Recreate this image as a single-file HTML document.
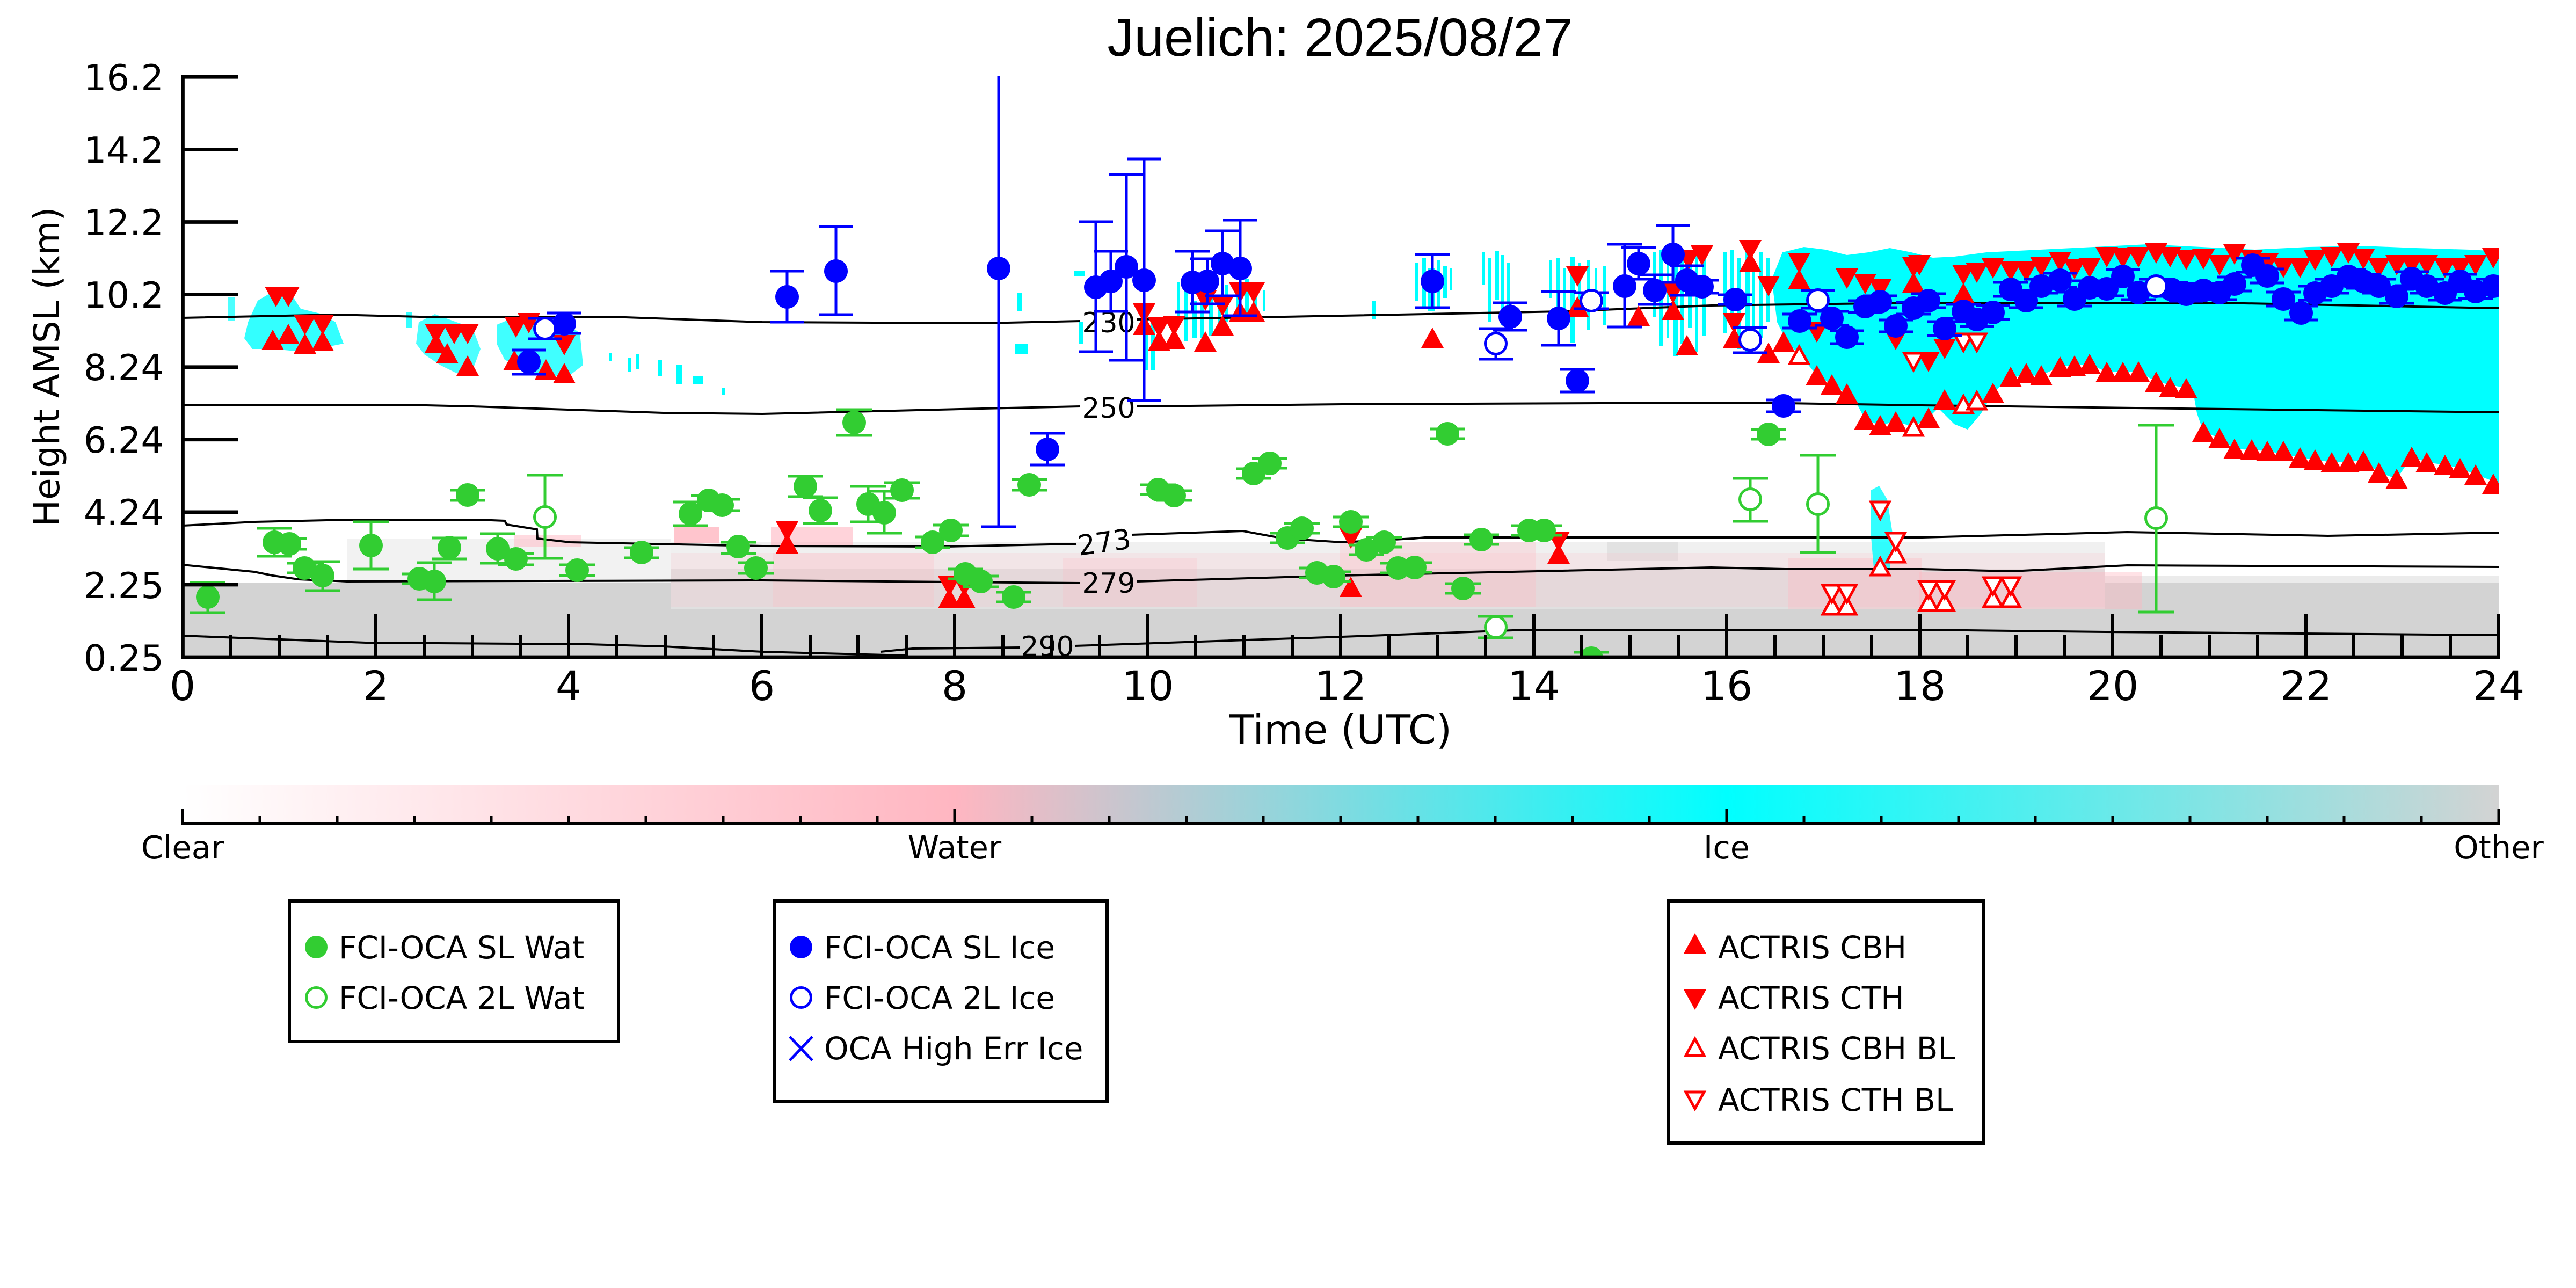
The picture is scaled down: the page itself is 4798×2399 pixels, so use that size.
<!DOCTYPE html>
<html><head><meta charset="utf-8"><style>html,body{margin:0;padding:0;background:#fff}svg{display:block}</style></head><body>
<svg xmlns="http://www.w3.org/2000/svg" width="4798" height="2399" viewBox="0 0 4798 2399" font-family="'DejaVu Sans', 'Liberation Sans', sans-serif">
<defs>
<clipPath id="pa"><rect x="340" y="141" width="4314" height="1083"/></clipPath>
<path id="tu" d="M0,-19L21,19L-21,19Z"/>
<path id="td" d="M0,19L21,-19L-21,-19Z"/>
<path id="tuo" d="M0,-15L17,16L-17,16Z"/>
<path id="tdo" d="M0,15L17,-16L-17,-16Z"/>
<linearGradient id="cb" x1="0" x2="1" y1="0" y2="0">
<stop offset="0" stop-color="#ffffff"/><stop offset="0.3333" stop-color="#ffb6c1"/><stop offset="0.6667" stop-color="#00ffff"/><stop offset="1" stop-color="#d3d3d3"/>
</linearGradient>
</defs>
<rect width="4798" height="2399" fill="#fff"/>
<text x="2496" y="104" font-family="'Liberation Sans', Arial, sans-serif" font-size="100" text-anchor="middle">Juelich: 2025/08/27</text>

<g clip-path="url(#pa)">
<!-- gray / speckle -->
<rect x="646" y="1003" width="604" height="83" fill="#d3d3d3" opacity="0.3"/>
<rect x="1250" y="1010" width="2670" height="50" fill="#d3d3d3" opacity="0.35"/>
<rect x="1250" y="1060" width="2670" height="75" fill="#d3d3d3" opacity="0.7"/>
<rect x="2993" y="1010" width="132" height="35" fill="#d3d3d3" opacity="0.5"/>
<rect x="3920" y="1072" width="734" height="14" fill="#d3d3d3" opacity="0.45"/>
<path d="M340,1086H1250V1135H3920V1086H4654V1224H340Z" fill="#d3d3d3"/>
<!-- pink -->
<rect x="958" y="997" width="124" height="22" fill="#ffb6c1" opacity="0.5"/>
<rect x="1255" y="982" width="85" height="30" fill="#ffb6c1" opacity="0.8"/>
<rect x="1436" y="982" width="152" height="35" fill="#ffb6c1" opacity="0.6"/>
<rect x="1250" y="1030" width="2670" height="100" fill="#ffb6c1" opacity="0.18"/>
<rect x="1440" y="1030" width="300" height="100" fill="#ffb6c1" opacity="0.25"/>
<rect x="1980" y="1040" width="250" height="90" fill="#ffb6c1" opacity="0.22"/>
<rect x="2495" y="1010" width="365" height="120" fill="#ffb6c1" opacity="0.3"/>
<rect x="3330" y="1040" width="250" height="95" fill="#ffb6c1" opacity="0.35"/>
<rect x="3575" y="1065" width="415" height="70" fill="#ffb6c1" opacity="0.4"/>

<!-- cyan -->
<g fill="#00ffff">
<polygon points="480,560 500,548 545,552 560,575 600,585 625,600 640,640 600,648 560,655 510,650 470,650 455,630 462,600" opacity="0.8"/>
<rect x="425" y="553" width="12" height="45" opacity="0.7"/>
<rect x="757" y="581" width="10" height="30" opacity="0.8"/>
<polygon points="780,600 810,585 850,600 880,610 895,650 880,690 850,695 820,680 790,660 775,640" opacity="0.7"/>
<polygon points="925,605 960,590 1000,595 1050,600 1080,620 1086,680 1060,700 1020,700 980,690 940,670 925,640" opacity="0.75"/>
<rect x="1134" y="657" width="6" height="15"/><rect x="1170" y="667" width="5" height="25"/><rect x="1185" y="660" width="6" height="28"/>
<rect x="1225" y="670" width="8" height="30"/><rect x="1260" y="680" width="10" height="35"/><rect x="1290" y="700" width="20" height="15"/><rect x="1345" y="722" width="6" height="14"/>
<rect x="1895" y="545" width="8" height="35"/><rect x="1890" y="640" width="25" height="20"/>
<rect x="2000" y="505" width="20" height="10"/><rect x="2010" y="600" width="8" height="40"/>
<rect x="2132" y="590" width="6" height="100"/><rect x="2144" y="600" width="8" height="90"/>
<rect x="2192" y="525" width="6" height="80"/><rect x="2205" y="540" width="8" height="95"/><rect x="2220" y="560" width="10" height="70"/><rect x="2236" y="530" width="6" height="100"/><rect x="2252" y="545" width="8" height="80"/><rect x="2268" y="560" width="6" height="60"/><rect x="2282" y="530" width="5" height="70"/>
<rect x="2302" y="525" width="6" height="60"/><rect x="2318" y="520" width="8" height="70"/><rect x="2336" y="530" width="6" height="55"/><rect x="2352" y="540" width="5" height="40"/>
<rect x="2555" y="560" width="8" height="35"/>
<rect x="2636" y="490" width="6" height="70"/><rect x="2648" y="480" width="8" height="95"/><rect x="2660" y="500" width="12" height="80"/><rect x="2676" y="485" width="6" height="90"/><rect x="2688" y="495" width="8" height="60"/><rect x="2700" y="500" width="4" height="40"/>
<rect x="2760" y="470" width="5" height="60"/><rect x="2772" y="480" width="6" height="120"/><rect x="2784" y="468" width="8" height="90"/><rect x="2796" y="475" width="5" height="130"/><rect x="2806" y="490" width="6" height="80"/>
<rect x="2885" y="485" width="5" height="70"/><rect x="2898" y="480" width="7" height="120"/><rect x="2912" y="500" width="5" height="90"/><rect x="2925" y="478" width="8" height="160"/><rect x="2940" y="490" width="5" height="100"/><rect x="2955" y="485" width="7" height="130"/><rect x="2970" y="500" width="5" height="80"/><rect x="2985" y="495" width="6" height="110"/>
<rect x="3078" y="470" width="6" height="120"/><rect x="3090" y="465" width="8" height="180"/><rect x="3104" y="480" width="5" height="150"/><rect x="3116" y="463" width="9" height="200"/><rect x="3130" y="470" width="6" height="170"/><rect x="3144" y="480" width="8" height="130"/><rect x="3158" y="465" width="5" height="190"/><rect x="3170" y="475" width="7" height="150"/>
<rect x="3210" y="470" width="6" height="150"/><rect x="3222" y="465" width="8" height="120"/><rect x="3236" y="480" width="6" height="170"/><rect x="3250" y="470" width="9" height="185"/><rect x="3264" y="490" width="5" height="140"/><rect x="3276" y="470" width="7" height="160"/><rect x="3290" y="480" width="6" height="120"/>
<polygon points="3300,520 3320,470 3360,460 3400,465 3440,475 3480,470 3520,462 3560,470 3600,480 3640,478 3700,470 3800,465 3900,460 4000,455 4100,460 4200,465 4300,460 4400,458 4500,462 4600,465 4654,468 4654,900 4611,884 4582,872 4554,866 4520,861 4492,851 4464,892 4431,880 4402,858 4343,861 4284,852 4223,840 4162,836 4134,816 4104,804 4092,770 4085,730 4072,723 4016,711 3983,692 3924,693 3892,678 3837,683 3802,699 3745,702 3712,732 3690,770 3665,800 3640,790 3610,760 3592,778 3564,795 3531,785 3502,792 3474,782 3455,745 3440,733 3412,716 3384,699 3352,660 3330,640 3310,600"/>
<polygon points="3485,913 3500,905 3515,930 3526,1000 3520,1058 3490,1058 3485,1000" opacity="0.8"/>
</g>

<!-- contours -->
<g fill="none" stroke="#000" stroke-width="4">
<polyline points="340,592 626,586 820,591 1165,591 1420,600 1830,602 2012,598"/>
<polyline points="2118,595 2500,588 2910,580 3187,569 3580,564 4129,564 4654,574"/>
<polyline points="340,755 750,754 880,757 1235,769 1420,771 1830,761 2012,757"/>
<polyline points="2118,757 2500,753 2980,751 3325,751 3580,755 4060,761 4654,768"/>
<polyline points="340,979 475,972 650,968 890,968 940,970 944,977 1000,986 1001,1003 1062,1010 1420,1017 1761,1018 2005,1013"/>
<polyline points="2108,996 2315,989 2391,1003 2500,1010 2633,1003 2654,1001 3580,1001 3962,991 4336,998 4654,992"/>
<polyline points="340,1052 473,1065 508,1072 556,1079 646,1083 1420,1081 2012,1086"/>
<polyline points="2118,1083 2495,1072 3187,1057 3325,1060 3580,1060 3748,1064 3962,1053 4654,1056"/>
<polyline points="340,1184 681,1197 1096,1200 1235,1204 1420,1214 1690,1221"/>
<polyline points="1640,1214 1700,1208 1900,1206"/>
<polyline points="2002,1203 2500,1186 2845,1173 3580,1173 3921,1177 4654,1183"/>
</g>
<g font-size="52" text-anchor="middle">
<text x="2065" y="619">230</text>
<text x="2065" y="778">250</text>
<text x="2057" y="1028" transform="rotate(-8 2057 1010)">273</text>
<text x="2065" y="1104">279</text>
<text x="1951" y="1222">290</text>
</g>

<!-- red filled -->
<g fill="#ff0000">
<use href="#tu" x="508" y="633"/><use href="#tu" x="537" y="622"/><use href="#tu" x="568" y="640"/><use href="#tu" x="601" y="635"/>
<use href="#tu" x="812" y="638"/><use href="#tu" x="833" y="658"/><use href="#tu" x="871" y="681"/>
<use href="#tu" x="958" y="671"/><use href="#tu" x="1017" y="688"/><use href="#tu" x="1051" y="695"/>
<use href="#tu" x="1466" y="1012"/><use href="#tu" x="1768" y="1114"/><use href="#tu" x="1796" y="1114"/>
<use href="#tu" x="2131" y="605"/><use href="#tu" x="2159" y="634"/><use href="#tu" x="2187" y="631"/><use href="#tu" x="2245" y="636"/><use href="#tu" x="2277" y="606"/><use href="#tu" x="2310" y="580"/><use href="#tu" x="2335" y="580"/>
<use href="#tu" x="2516" y="1093"/><use href="#tu" x="2668" y="629"/><use href="#tu" x="2903" y="1031"/><use href="#tu" x="2938" y="571"/><use href="#tu" x="3052" y="588"/><use href="#tu" x="3116" y="577"/><use href="#tu" x="3142" y="643"/><use href="#tu" x="3260" y="488"/><use href="#tu" x="3351" y="520"/><use href="#tu" x="3230" y="629"/><use href="#tu" x="3294" y="657"/><use href="#tu" x="3322" y="636"/><use href="#tu" x="3384" y="699"/><use href="#tu" x="3412" y="716"/><use href="#tu" x="3440" y="733"/><use href="#tu" x="3474" y="782"/><use href="#tu" x="3502" y="792"/><use href="#tu" x="3531" y="785"/><use href="#tu" x="3564" y="526"/>
<use href="#tu" x="3592" y="778"/><use href="#tu" x="3622" y="744"/><use href="#tu" x="3657" y="546"/><use href="#tu" x="3712" y="732"/><use href="#tu" x="3745" y="702"/><use href="#tu" x="3774" y="695"/><use href="#tu" x="3802" y="699"/><use href="#tu" x="3837" y="683"/><use href="#tu" x="3864" y="681"/><use href="#tu" x="3892" y="678"/><use href="#tu" x="3924" y="693"/><use href="#tu" x="3954" y="693"/><use href="#tu" x="3983" y="692"/><use href="#tu" x="4016" y="711"/><use href="#tu" x="4042" y="721"/><use href="#tu" x="4072" y="723"/><use href="#tu" x="4104" y="804"/><use href="#tu" x="4134" y="816"/><use href="#tu" x="4162" y="836"/><use href="#tu" x="4194" y="837"/><use href="#tu" x="4223" y="840"/><use href="#tu" x="4253" y="840"/><use href="#tu" x="4284" y="852"/><use href="#tu" x="4312" y="856"/><use href="#tu" x="4343" y="861"/><use href="#tu" x="4374" y="861"/><use href="#tu" x="4402" y="858"/><use href="#tu" x="4431" y="880"/><use href="#tu" x="4464" y="892"/><use href="#tu" x="4492" y="851"/><use href="#tu" x="4520" y="861"/><use href="#tu" x="4554" y="866"/><use href="#tu" x="4582" y="872"/><use href="#tu" x="4611" y="884"/><use href="#tu" x="4644" y="901"/>

<use href="#td" x="514" y="553"/><use href="#td" x="537" y="553"/><use href="#td" x="568" y="605"/><use href="#td" x="601" y="605"/>
<use href="#td" x="812" y="622"/><use href="#td" x="846" y="622"/><use href="#td" x="871" y="622"/>
<use href="#td" x="961" y="610"/><use href="#td" x="985" y="602"/><use href="#td" x="1051" y="643"/>
<use href="#td" x="1466" y="990"/><use href="#td" x="1768" y="1092"/><use href="#td" x="1796" y="1092"/>
<use href="#td" x="2131" y="584"/><use href="#td" x="2159" y="610"/><use href="#td" x="2187" y="607"/><use href="#td" x="2245" y="560"/><use href="#td" x="2277" y="570"/><use href="#td" x="2310" y="545"/><use href="#td" x="2335" y="545"/>
<use href="#td" x="2516" y="1003"/><use href="#td" x="2903" y="1009"/><use href="#td" x="2938" y="515"/><use href="#td" x="3116" y="546"/><use href="#td" x="3145" y="484"/><use href="#td" x="3170" y="476"/><use href="#td" x="3260" y="466"/><use href="#td" x="3294" y="533"/><use href="#td" x="3351" y="490"/><use href="#td" x="3230" y="602"/><use href="#td" x="3384" y="619"/><use href="#td" x="3440" y="519"/><use href="#td" x="3474" y="529"/><use href="#td" x="3502" y="539"/><use href="#td" x="3531" y="633"/><use href="#td" x="3564" y="498"/>
<use href="#td" x="3575" y="494"/><use href="#td" x="3592" y="674"/><use href="#td" x="3622" y="650"/><use href="#td" x="3657" y="512"/><use href="#td" x="3682" y="508"/><use href="#td" x="3712" y="500"/><use href="#td" x="3745" y="505"/><use href="#td" x="3774" y="506"/><use href="#td" x="3802" y="497"/><use href="#td" x="3837" y="488"/><use href="#td" x="3864" y="501"/><use href="#td" x="3892" y="499"/><use href="#td" x="3924" y="479"/><use href="#td" x="3954" y="481"/><use href="#td" x="3983" y="479"/><use href="#td" x="4016" y="472"/><use href="#td" x="4042" y="479"/><use href="#td" x="4072" y="484"/><use href="#td" x="4104" y="483"/><use href="#td" x="4134" y="494"/><use href="#td" x="4162" y="474"/><use href="#td" x="4194" y="484"/><use href="#td" x="4223" y="491"/><use href="#td" x="4253" y="499"/><use href="#td" x="4284" y="499"/><use href="#td" x="4312" y="485"/><use href="#td" x="4343" y="479"/><use href="#td" x="4374" y="472"/><use href="#td" x="4402" y="483"/><use href="#td" x="4431" y="499"/><use href="#td" x="4464" y="494"/><use href="#td" x="4492" y="494"/><use href="#td" x="4520" y="494"/><use href="#td" x="4554" y="499"/><use href="#td" x="4582" y="499"/><use href="#td" x="4611" y="494"/><use href="#td" x="4644" y="481"/>
</g>
<!-- red open -->
<g fill="#fff" stroke="#ff0000" stroke-width="5">
<use href="#tuo" x="3351" y="661"/><use href="#tuo" x="3564" y="795"/><use href="#tuo" x="3657" y="753"/><use href="#tuo" x="3682" y="746"/><use href="#tuo" x="3502" y="1055"/><use href="#tuo" x="3531" y="1031"/><use href="#tuo" x="3412" y="1128"/><use href="#tuo" x="3440" y="1128"/><use href="#tuo" x="3592" y="1121"/><use href="#tuo" x="3622" y="1121"/><use href="#tuo" x="3712" y="1114"/><use href="#tuo" x="3745" y="1114"/>
<use href="#tdo" x="3564" y="674"/><use href="#tdo" x="3657" y="638"/><use href="#tdo" x="3682" y="638"/><use href="#tdo" x="3502" y="951"/><use href="#tdo" x="3531" y="1009"/><use href="#tdo" x="3412" y="1106"/><use href="#tdo" x="3440" y="1106"/><use href="#tdo" x="3592" y="1099"/><use href="#tdo" x="3622" y="1099"/><use href="#tdo" x="3712" y="1092"/><use href="#tdo" x="3745" y="1092"/>
</g>

<!-- green errorbars -->
<path fill="none" stroke="#32cd32" stroke-width="5" d="M354,1085H420M387,1085V1141M354,1141H420M478,984H544M511,984V1036M478,1036H544M506,1003H572M506,1023H572M534,1049H600M534,1067H600M568,1046H634M601,1046V1100M568,1100H634M658,972H724M691,972V1060M658,1060H724M748,1069H814M748,1087H814M776,1048H842M809,1048V1117M776,1117H842M804,1002H870M837,1002V1041M804,1041H870M838,913H904M838,932H904M894,994H960M927,994V1049M894,1049H960M928,1031H994M928,1052H994M1042,1052H1108M1042,1072H1108M1162,1020H1228M1162,1039H1228M1253,935H1319M1286,935V979M1253,979H1319M1287,923H1353M1287,941H1353M1312,930H1378M1312,951H1378M1342,1010H1408M1342,1031H1408M1375,1048H1441M1375,1068H1441M1467,887H1533M1467,925H1533M1495,927H1561M1528,927V975M1495,975H1561M1558,763H1624M1558,811H1624M1584,906H1650M1617,906V972M1584,972H1650M1614,915H1680M1647,915V993M1614,993H1680M1647,899H1713M1647,928H1713M1704,1000H1770M1704,1020H1770M1738,978H1804M1738,998H1804M1765,1060H1831M1765,1078H1831M1794,1073H1860M1794,1093H1860M1855,1103H1921M1855,1121H1921M1884,893H1950M1884,913H1950M2124,903H2190M2124,921H2190M2154,914H2220M2154,932H2220M2302,873H2368M2302,891H2368M2332,854H2398M2332,872H2398M2365,993H2431M2365,1011H2431M2392,975H2458M2392,993H2458M2420,1058H2486M2420,1076H2486M2451,1065H2517M2451,1083H2517M2483,963H2549M2483,981H2549M2512,1015H2578M2512,1033H2578M2545,1001H2611M2545,1019H2611M2571,1049H2637M2571,1067H2637M2602,1048H2668M2602,1066H2668M2663,799H2729M2663,817H2729M2692,1087H2758M2692,1105H2758M2726,996H2792M2726,1014H2792M2815,979H2881M2815,997H2881M2843,979H2909M2843,997H2909M3261,800H3327M3261,818H3327M2931,1215H2997M982,885H1048M1015,885V1040M982,1040H1048M2753,1148H2819M2786,1148V1188M2753,1188H2819M3227,891H3293M3260,891V971M3227,971H3293M3353,848H3419M3386,848V1029M3353,1029H3419M3983,792H4049M4016,792V1140M3983,1140H4049"/>
<g fill="#32cd32">
<circle cx="387" cy="1112" r="22"/><circle cx="511" cy="1010" r="22"/><circle cx="539" cy="1013" r="22"/><circle cx="567" cy="1058" r="22"/><circle cx="601" cy="1072" r="22"/><circle cx="691" cy="1016" r="22"/><circle cx="781" cy="1078" r="22"/><circle cx="809" cy="1083" r="22"/><circle cx="837" cy="1020" r="22"/><circle cx="871" cy="922" r="22"/><circle cx="927" cy="1022" r="22"/><circle cx="961" cy="1041" r="22"/><circle cx="1075" cy="1062" r="22"/><circle cx="1195" cy="1029" r="22"/><circle cx="1286" cy="957" r="22"/><circle cx="1320" cy="932" r="22"/><circle cx="1345" cy="941" r="22"/><circle cx="1375" cy="1018" r="22"/><circle cx="1408" cy="1058" r="22"/>
<circle cx="1500" cy="906" r="22"/><circle cx="1528" cy="951" r="22"/><circle cx="1591" cy="787" r="22"/><circle cx="1617" cy="939" r="22"/><circle cx="1647" cy="955" r="22"/><circle cx="1680" cy="913" r="22"/><circle cx="1737" cy="1010" r="22"/><circle cx="1771" cy="988" r="22"/><circle cx="1798" cy="1069" r="22"/><circle cx="1827" cy="1083" r="22"/><circle cx="1888" cy="1112" r="22"/><circle cx="1917" cy="903" r="22"/><circle cx="2157" cy="912" r="22"/><circle cx="2187" cy="923" r="22"/><circle cx="2335" cy="882" r="22"/><circle cx="2365" cy="863" r="22"/><circle cx="2398" cy="1002" r="22"/><circle cx="2425" cy="984" r="22"/><circle cx="2453" cy="1067" r="22"/><circle cx="2484" cy="1074" r="22"/>
<circle cx="2516" cy="972" r="22"/><circle cx="2545" cy="1024" r="22"/><circle cx="2578" cy="1010" r="22"/><circle cx="2604" cy="1058" r="22"/><circle cx="2635" cy="1057" r="22"/><circle cx="2696" cy="808" r="22"/><circle cx="2725" cy="1096" r="22"/><circle cx="2759" cy="1005" r="22"/><circle cx="2848" cy="988" r="22"/><circle cx="2876" cy="988" r="22"/><circle cx="3294" cy="809" r="22"/><circle cx="2964" cy="1226" r="22"/>
</g>
<g fill="#fff" stroke="#32cd32" stroke-width="5">
<circle cx="1015" cy="963" r="19.5"/><circle cx="2786" cy="1168" r="19.5"/><circle cx="3260" cy="930" r="19.5"/><circle cx="3386" cy="939" r="19.5"/><circle cx="4016" cy="965" r="19.5"/>
</g>

<!-- blue errorbars -->
<path fill="none" stroke="#0000ff" stroke-width="5" d="M953,652H1017M985,652V697M953,697H1017M1019,583H1083M1051,583V621M1019,621H1083M1434,505H1498M1466,505V600M1434,600H1498M1525,422H1589M1557,422V586M1525,586H1589M1860,100V981M1828,981H1892M1919,807H1983M1951,807V866M1919,866H1983M2009,413H2073M2041,413V655M2009,655H2073M2037,468H2101M2069,468V580M2037,580H2101M2066,325H2130M2098,325V671M2066,671H2130M2099,296H2163M2131,296V746M2099,746H2163M2189,468H2253M2221,468V581M2189,581H2253M2217,482H2281M2249,482V566M2217,566H2281M2245,430H2309M2277,430V551M2245,551H2309M2278,410H2342M2310,410V588M2278,588H2342M2636,474H2700M2668,474V573M2636,573H2700M2781,564H2845M2813,564V615M2781,615H2845M2871,543H2935M2903,543V643M2871,643H2935M2906,688H2970M2938,688V730M2906,730H2970M2994,455H3058M3026,455V609M2994,609H3058M3020,461H3084M3052,461V520M3020,520H3084M3050,512H3114M3082,512V567M3050,567H3114M3084,420H3148M3116,420V526M3084,526H3148M3110,495H3174M3142,495V550M3110,550H3174M3138,522H3202M3138,546H3202M3200,549H3264M3200,567H3264M3290,745H3354M3290,767H3354M3320,585H3384M3320,611H3384M3380,580H3444M3380,606H3444M3408,616H3472M3408,640H3472M3442,560H3506M3442,582H3506M3470,551H3534M3470,573H3534M3499,596H3563M3499,618H3563M3532,563H3596M3532,585H3596M3560,547H3624M3560,573H3624M3590,599H3654M3590,625H3654M3625,567H3689M3625,593H3689M3650,582H3714M3650,608H3714M3680,569H3744M3680,595H3744M3713,526H3777M3713,552H3777M3742,547H3806M3742,573H3806M3770,520H3834M3770,546H3834M3805,509H3869M3805,535H3869M3832,544H3896M3832,570H3896M3860,523H3924M3860,549H3924M3892,525H3956M3892,551H3956M3922,502H3986M3922,528H3986M3951,532H4015M3951,558H4015M4012,526H4076M4012,552H4076M4040,535H4104M4040,561H4104M4072,528H4136M4072,554H4136M4102,532H4166M4102,558H4166M4130,516H4194M4130,542H4194M4164,481H4228M4164,507H4228M4191,501H4255M4191,527H4255M4221,544H4285M4221,570H4285M4254,570H4318M4254,596H4318M4280,533H4344M4280,559H4344M4311,520H4375M4311,546H4375M4342,502H4406M4342,528H4406M4370,511H4434M4370,537H4434M4399,520H4463M4399,546H4463M4432,539H4496M4432,565H4496M4460,506H4524M4460,532H4524M4488,520H4552M4488,546H4552M4522,533H4586M4522,559H4586M4550,511H4614M4550,537H4614M4579,530H4643M4579,556H4643M4612,520H4676M4612,546H4676M983,593H1047M1015,593V631M983,631H1047M2754,612H2818M2786,612V669M2754,669H2818M2932,545H2996M2932,575H2996M3228,610H3292M3260,610V657M3228,657H3292M3354,541H3418M3354,574H3418M3984,520H4048M3984,546H4048"/>
<g fill="#0000ff">
<circle cx="985" cy="674" r="22"/><circle cx="1051" cy="603" r="22"/><circle cx="1466" cy="553" r="22"/><circle cx="1557" cy="505" r="22"/><circle cx="1860" cy="500" r="22"/><circle cx="1951" cy="837" r="22"/><circle cx="2041" cy="535" r="22"/><circle cx="2069" cy="524" r="22"/><circle cx="2098" cy="497" r="22"/><circle cx="2131" cy="522" r="22"/><circle cx="2221" cy="526" r="22"/><circle cx="2249" cy="524" r="22"/><circle cx="2277" cy="491" r="22"/><circle cx="2310" cy="500" r="22"/>
<circle cx="2668" cy="524" r="22"/><circle cx="2813" cy="590" r="22"/><circle cx="2903" cy="593" r="22"/><circle cx="2938" cy="709" r="22"/><circle cx="3026" cy="533" r="22"/><circle cx="3052" cy="491" r="22"/><circle cx="3082" cy="541" r="22"/><circle cx="3116" cy="474" r="22"/><circle cx="3142" cy="522" r="22"/><circle cx="3170" cy="534" r="22"/><circle cx="3232" cy="558" r="22"/><circle cx="3322" cy="756" r="22"/><circle cx="3352" cy="598" r="22"/><circle cx="3412" cy="593" r="22"/><circle cx="3440" cy="628" r="22"/><circle cx="3474" cy="571" r="22"/><circle cx="3502" cy="562" r="22"/><circle cx="3531" cy="607" r="22"/><circle cx="3564" cy="574" r="22"/>
<circle cx="3592" cy="560" r="22"/><circle cx="3622" cy="612" r="22"/><circle cx="3657" cy="580" r="22"/><circle cx="3682" cy="595" r="22"/><circle cx="3712" cy="582" r="22"/><circle cx="3745" cy="539" r="22"/><circle cx="3774" cy="560" r="22"/><circle cx="3802" cy="533" r="22"/><circle cx="3837" cy="522" r="22"/><circle cx="3864" cy="557" r="22"/><circle cx="3892" cy="536" r="22"/><circle cx="3924" cy="538" r="22"/><circle cx="3954" cy="515" r="22"/><circle cx="3983" cy="545" r="22"/><circle cx="4044" cy="539" r="22"/><circle cx="4072" cy="548" r="22"/><circle cx="4104" cy="541" r="22"/><circle cx="4134" cy="545" r="22"/><circle cx="4162" cy="529" r="22"/><circle cx="4196" cy="494" r="22"/><circle cx="4223" cy="514" r="22"/><circle cx="4253" cy="557" r="22"/><circle cx="4286" cy="583" r="22"/><circle cx="4312" cy="546" r="22"/><circle cx="4343" cy="533" r="22"/><circle cx="4374" cy="515" r="22"/><circle cx="4402" cy="524" r="22"/><circle cx="4431" cy="533" r="22"/><circle cx="4464" cy="552" r="22"/><circle cx="4492" cy="519" r="22"/><circle cx="4520" cy="533" r="22"/><circle cx="4554" cy="546" r="22"/><circle cx="4582" cy="524" r="22"/><circle cx="4611" cy="543" r="22"/><circle cx="4644" cy="533" r="22"/>
</g>
<g fill="#fff" stroke="#0000ff" stroke-width="5">
<circle cx="1015" cy="612" r="19.5"/><circle cx="2786" cy="640" r="19.5"/><circle cx="2964" cy="560" r="19.5"/><circle cx="3260" cy="633" r="19.5"/><circle cx="3386" cy="559" r="19.5"/><circle cx="4016" cy="533" r="19.5"/>
</g>
</g>

<!-- axes -->
<g stroke="#000" stroke-width="6.7" fill="none">
<path d="M340.5,140V1227.5M337,1224H4657"/>
<path d="M340,143.3H443M340,278.4H443M340,413.5H443M340,548.6H443M340,683.7H443M340,818.8H443M340,953.9H443M340,1089H443"/>
</g>
<g stroke="#000" stroke-width="6" fill="none">
<path d="M700,1224V1143M1059,1224V1143M1419,1224V1143M1778,1224V1143M2138,1224V1143M2497,1224V1143M2857,1224V1143M3216,1224V1143M3576,1224V1143M3935,1224V1143M4295,1224V1143M4654,1224V1143"/>
<path d="M430,1224V1182M520,1224V1182M610,1224V1182M790,1224V1182M880,1224V1182M969,1224V1182M1149,1224V1182M1239,1224V1182M1329,1224V1182M1509,1224V1182M1598,1224V1182M1688,1224V1182M1868,1224V1182M1958,1224V1182M2048,1224V1182M2227,1224V1182M2317,1224V1182M2407,1224V1182M2587,1224V1182M2677,1224V1182M2767,1224V1182M2946,1224V1182M3036,1224V1182M3126,1224V1182M3306,1224V1182M3396,1224V1182M3486,1224V1182M3665,1224V1182M3755,1224V1182M3845,1224V1182M4025,1224V1182M4115,1224V1182M4205,1224V1182M4384,1224V1182M4474,1224V1182M4564,1224V1182"/>
</g>
<g font-size="67" text-anchor="end">
<text x="305" y="168">16.2</text><text x="305" y="303">14.2</text><text x="305" y="438">12.2</text><text x="305" y="573">10.2</text><text x="305" y="708">8.24</text><text x="305" y="843">6.24</text><text x="305" y="978">4.24</text><text x="305" y="1114">2.25</text><text x="305" y="1249">0.25</text>
</g>
<g font-size="76" text-anchor="middle">
<text x="340" y="1304">0</text><text x="700" y="1304">2</text><text x="1059" y="1304">4</text><text x="1419" y="1304">6</text><text x="1778" y="1304">8</text><text x="2138" y="1304">10</text><text x="2497" y="1304">12</text><text x="2857" y="1304">14</text><text x="3216" y="1304">16</text><text x="3576" y="1304">18</text><text x="3935" y="1304">20</text><text x="4295" y="1304">22</text><text x="4654" y="1304">24</text>
</g>
<text x="2497" y="1385" font-size="75" text-anchor="middle">Time (UTC)</text>
<text transform="translate(110,683) rotate(-90)" font-size="66" text-anchor="middle">Height AMSL (km)</text>

<!-- colorbar -->
<rect x="340" y="1462" width="4314" height="70" fill="url(#cb)"/>
<g stroke="#000" fill="none">
<path stroke-width="6" d="M337,1534H4657"/>
<path stroke-width="5" d="M340,1534V1506M1778,1534V1506M3216,1534V1506M4654,1534V1506"/>
<path stroke-width="5" d="M484,1534V1520M628,1534V1520M772,1534V1520M915,1534V1520M1059,1534V1520M1203,1534V1520M1347,1534V1520M1491,1534V1520M1634,1534V1520M1922,1534V1520M2066,1534V1520M2210,1534V1520M2353,1534V1520M2497,1534V1520M2641,1534V1520M2785,1534V1520M2929,1534V1520M3072,1534V1520M3360,1534V1520M3504,1534V1520M3648,1534V1520M3791,1534V1520M3935,1534V1520M4079,1534V1520M4223,1534V1520M4366,1534V1520M4510,1534V1520"/>
</g>
<g font-size="59" text-anchor="middle">
<text x="340" y="1599">Clear</text><text x="1778" y="1599">Water</text><text x="3216" y="1599">Ice</text><text x="4654" y="1599">Other</text>
</g>

<!-- legends -->
<g fill="#fff" stroke="#000" stroke-width="6">
<rect x="539" y="1678" width="613" height="262"/>
<rect x="1443" y="1678" width="619" height="373"/>
<rect x="3108" y="1678" width="587" height="451"/>
</g>
<circle cx="589" cy="1764" r="21" fill="#32cd32"/>
<circle cx="589" cy="1858" r="18.5" fill="#fff" stroke="#32cd32" stroke-width="5"/>
<circle cx="1492" cy="1764" r="21" fill="#0000ff"/>
<circle cx="1492" cy="1858" r="18.5" fill="#fff" stroke="#0000ff" stroke-width="5"/>
<path d="M1471,1931L1513,1975M1513,1931L1471,1975" stroke="#0000ff" stroke-width="5" fill="none"/>
<use href="#tu" x="3157" y="1757" fill="#ff0000"/>
<use href="#td" x="3157" y="1862" fill="#ff0000"/>
<use href="#tuo" x="3157" y="1950" fill="#fff" stroke="#ff0000" stroke-width="5"/>
<use href="#tdo" x="3157" y="2050" fill="#fff" stroke="#ff0000" stroke-width="5"/>
<g font-size="58">
<text x="631" y="1785">FCI-OCA SL Wat</text><text x="631" y="1879">FCI-OCA 2L Wat</text>
<text x="1535" y="1785">FCI-OCA SL Ice</text><text x="1535" y="1879">FCI-OCA 2L Ice</text><text x="1535" y="1973">OCA High Err Ice</text>
<text x="3200" y="1785">ACTRIS CBH</text><text x="3200" y="1879">ACTRIS CTH</text><text x="3200" y="1973">ACTRIS CBH BL</text><text x="3200" y="2069">ACTRIS CTH BL</text>
</g>
</svg>
</body></html>
